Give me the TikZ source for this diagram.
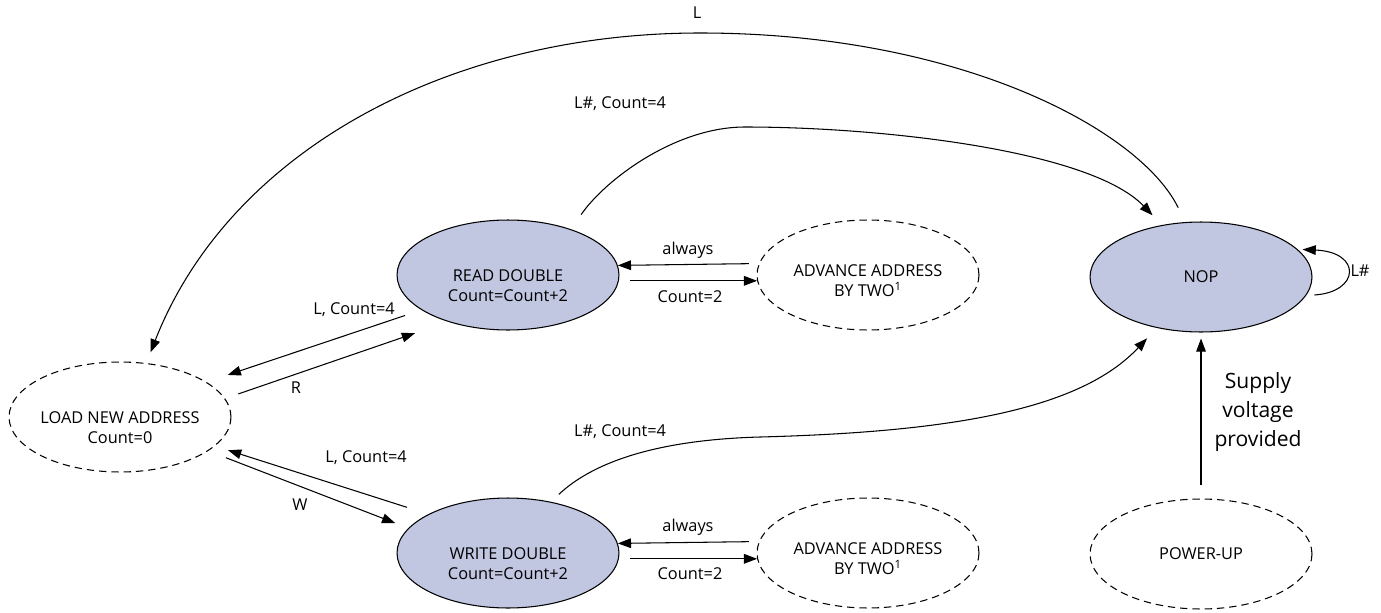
\documentclass[tikz,border=0pt]{standalone}
\usepackage{fontspec}
\setmainfont{Open Sans}
\usetikzlibrary{arrows.meta,shapes.geometric}
\definecolor{stfill}{RGB}{193,198,225}
\begin{document}
\begin{tikzpicture}[x=0.02cm, y=-0.02cm,
  every node/.style={font=\fontsize{9.3}{11.3}\selectfont, inner sep=0pt},
  shp/.style={ellipse, minimum width=4.44cm, minimum height=2.2cm, draw, line width=0.6pt},
  solidst/.style={shp, fill=stfill},
  dashst/.style={shp, dash pattern=on 4.2pt off 2.8pt},
  arr/.style={-{Triangle[length=7.5pt,width=5.5pt]}, line width=0.6pt},
  inlbl/.style={align=center, yshift=-0.22cm},
  biglbl/.style={align=center, font=\fontsize{12}{16.7}\selectfont}
]
\useasboundingbox (0,0) rectangle (1381,612);

% states
\node[dashst, label={[inlbl]center:LOAD NEW ADDRESS\\Count=0}] (load) at (120,417) {};
\node[solidst, label={[inlbl]center:READ DOUBLE\\Count=Count+2}] (read) at (508,275) {};
\node[dashst, label={[inlbl, yshift=0.1cm]center:ADVANCE ADDRESS\\BY TWO\textsuperscript{1}}] (adv1) at (868,275) {};
\node[solidst] (nop) at (1201,277) {NOP};
\node[solidst, label={[inlbl]center:WRITE DOUBLE\\Count=Count+2}] (write) at (508,553) {};
\node[dashst, label={[inlbl, yshift=0.1cm]center:ADVANCE ADDRESS\\BY TWO\textsuperscript{1}}] (adv2) at (868,553) {};
\node[dashst] (pwr) at (1201,554) {POWER-UP};

% read <-> advance
\draw[arr, shorten <=0.2cm] (adv1.174.22) -- (read.5.78);
\draw[arr, shorten <=0.22cm] (read.-3.1) -- (adv1.183.1);
\node (la1) at (688,250) {always};
\node (lc1) at (690,297) {Count=2};

% write <-> advance
\draw[arr, shorten <=0.2cm] (adv2.174.22) -- (write.5.78);
\draw[arr, shorten <=0.22cm] (write.-3.1) -- (adv2.183.1);
\node (la2) at (688,527) {always};
\node (lc2) at (690,574) {Count=2};

% load <-> read
\draw[arr, shorten <=0.346cm, shorten >=0.446cm] (read.202.8) -- (load.22.2);
\node (llr) at (354,310) {L, Count=4};
\draw[arr, shorten <=0.28cm, shorten >=0.70cm] (load.10) -- (read.218.4);
\node (lr) at (296,388) {R};

% load <-> write
\draw[arr, shorten <=0.448cm, shorten >=0.274cm] (write.154.7) -- (load.-17.8);
\node (llw) at (366,458) {L, Count=4};
\draw[arr, shorten <=0.378cm, shorten >=0.28cm] (load.-21.5) -- (write.166.6);
\node (lw) at (300,505) {W};

% long arcs
\draw[arr, shorten <=0.32cm, shorten >=0.23cm] (nop.106.7) .. controls (1140,130) and (960,33) .. (700,33) .. controls (450,33) and (230,150) .. (load.64.9);
\node (lL) at (697,13) {L};

\draw[arr, shorten <=0.356cm, shorten >=0.27cm] (read.36.2) .. controls (605,180) and (675,127) .. (745,127) .. controls (880,127) and (1090,150) .. (nop.127.7);
\node (lrn) at (620,104) {L\#, Count=4};

\draw[arr, shorten <=0.216cm, shorten >=0.282cm] (write.50.4) .. controls (590,465) and (650,440) .. (760,437) .. controls (950,432) and (1080,410) .. (nop.229.3);
\node (lwn) at (620,432) {L\#, Count=4};

% self loop
\draw[arr, shorten <=0.166cm, shorten >=0.1cm] (nop.-10.6) .. controls (1360,292) and (1362,252) .. (nop.16);
\node (lself) at (1360,271) {L\#};

% power-up
\draw[arr, shorten <=0.26cm, shorten >=0.12cm] (pwr.north) -- (nop.south);
\node[biglbl] (lsup) at (1258,412) {Supply\\voltage\\provided};
\end{tikzpicture}
\end{document}
